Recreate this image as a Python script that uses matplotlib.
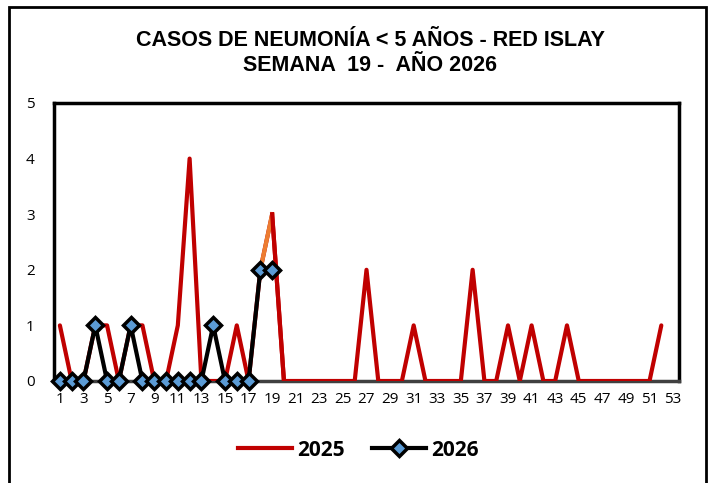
import numpy as np
import matplotlib
matplotlib.use("Agg")
import matplotlib.pyplot as plt
from matplotlib.patches import Rectangle
from matplotlib.lines import Line2D

# Datos por semana epidemiológica
semanas = list(range(1, 54))
casos_2025 = [1, 0, 0, 1, 1, 0, 1, 1, 0, 0, 1, 4, 0, 0, 0, 1, 0, 2, 3, 0,
              0, 0, 0, 0, 0, 0, 2, 0, 0, 0, 1, 0, 0, 0, 0, 2, 0, 0, 1, 0,
              1, 0, 0, 1, 0, 0, 0, 0, 0, 0, 0, 1]
semanas_2026 = list(range(1, 20))
casos_2026 = [0, 0, 0, 1, 0, 0, 1, 0, 0, 0, 0, 0, 0, 1, 0, 0, 0, 2, 2]
yticks = [0, 1, 2, 3, 4, 5]
xticks = list(range(1, 54, 2))

titulo = "CASOS DE NEUMONÍA < 5 AÑOS - RED ISLAY\nSEMANA  19 -  AÑO 2026"

rojo = "#C00000"
naranja = "#ED7D31"
azul = "#5B9BD5"

fig = plt.figure(figsize=(7.13, 4.83), dpi=100)
ax = fig.add_axes([54/713, 1 - 381/483, (679 - 54)/713, (381 - 103)/483])

# serie 2025 (segmento 18-19 en naranja, como en el original)
x25 = semanas[:len(casos_2025)]
ax.plot(x25, casos_2025, color=rojo, linewidth=3, zorder=3, solid_capstyle="round")
ax.plot(x25[17:19], casos_2025[17:19], color=naranja, linewidth=3, zorder=3)
ax.plot(x25[18:20], casos_2025[18:20], color=rojo, linewidth=3, zorder=3)

# serie 2026
ax.plot(semanas_2026, casos_2026, color="black", linewidth=3, zorder=4,
        marker="D", markersize=8, markerfacecolor=azul,
        markeredgecolor="black", markeredgewidth=2.5, clip_on=False)

ax.set_xlim(0.5, 53.5)
ax.set_ylim(0, 5)
ax.set_xticks(xticks)
ax.set_yticks(yticks)
ax.tick_params(length=0, labelsize=11)
ax.tick_params(axis="x", pad=8)
ax.tick_params(axis="y", pad=14)
for lab in ax.get_xticklabels() + ax.get_yticklabels():
    lab.set_fontfamily("Open Sans")

for s in ["left", "top", "right"]:
    ax.spines[s].set_linewidth(2.5)
    ax.spines[s].set_color("black")
ax.spines["bottom"].set_linewidth(2.5)
ax.spines["bottom"].set_color("#404040")

fig.text(370/713, 1 - 53/483, titulo, ha="center", va="center",
         fontsize=15.5, fontweight="bold", family="Liberation Sans",
         linespacing=1.2)

handles = [Line2D([], [], color=rojo, linewidth=3),
           Line2D([], [], color="black", linewidth=3, marker="D", markersize=8,
                  markerfacecolor=azul, markeredgecolor="black", markeredgewidth=2.5)]
fig.legend(handles, ["2025", "2026"], loc="center", bbox_to_anchor=(358/713, 1 - 450/483),
           ncol=2, frameon=False, handlelength=2.6, handletextpad=0.25, columnspacing=1.3,
           prop={"family": "Open Sans", "weight": "bold", "size": 15})

# marco exterior del gráfico
fig.add_artist(Rectangle((8.5/713, -0.05), (706 - 8.5)/713, 1.05 - 7.5/483,
                         transform=fig.transFigure, fill=False,
                         edgecolor="black", linewidth=2))

fig.savefig("out.png", dpi=100)
